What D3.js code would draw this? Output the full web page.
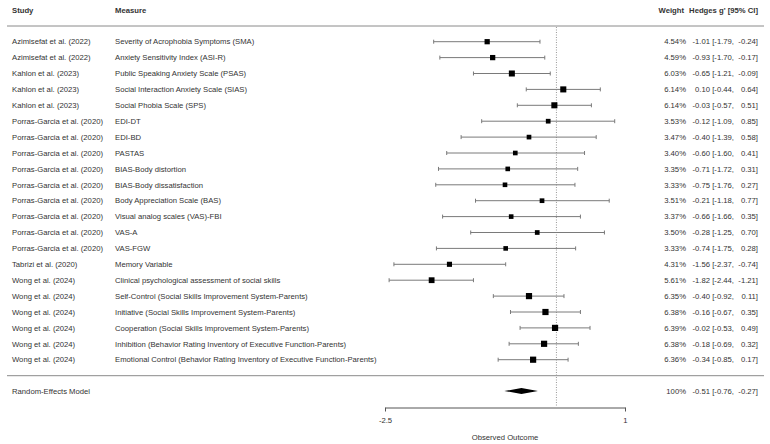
<!DOCTYPE html>
<html>
<head>
<meta charset="utf-8">
<script src="https://cdn.jsdelivr.net/npm/d3@7"></script>
<style>
  body { margin: 0; background: #fff; }
  svg text { font-family: "Liberation Sans", Arial, sans-serif; fill: #333; }
</style>
</head>
<body>
<div id="wrapper"></div>
<script>
// data
const studies = [
    'Azimisefat et al. (2022)', 'Azimisefat et al. (2022)',
    'Kahlon et al. (2023)', 'Kahlon et al. (2023)', 'Kahlon et al. (2023)',
    'Porras-Garcia et al. (2020)', 'Porras-Garcia et al. (2020)', 'Porras-Garcia et al. (2020)',
    'Porras-Garcia et al. (2020)', 'Porras-Garcia et al. (2020)', 'Porras-Garcia et al. (2020)',
    'Porras-Garcia et al. (2020)', 'Porras-Garcia et al. (2020)', 'Porras-Garcia et al. (2020)',
    'Tabrizi et al. (2020)',
    'Wong et al. (2024)', 'Wong et al. (2024)', 'Wong et al. (2024)',
    'Wong et al. (2024)', 'Wong et al. (2024)', 'Wong et al. (2024)'
];
const measures = [
    'Severity of Acrophobia Symptoms (SMA)',
    'Anxiety Sensitivity Index (ASI-R)',
    'Public Speaking Anxiety Scale (PSAS)',
    'Social Interaction Anxiety Scale (SIAS)',
    'Social Phobia Scale (SPS)',
    'EDI-DT',
    'EDI-BD',
    'PASTAS',
    'BIAS-Body distortion',
    'BIAS-Body dissatisfaction',
    'Body Appreciation Scale (BAS)',
    'Visual analog scales (VAS)-FBI',
    'VAS-A',
    'VAS-FGW',
    'Memory Variable',
    'Clinical psychological assessment of social skills',
    'Self-Control (Social Skills Improvement System-Parents)',
    'Initiative (Social Skills Improvement System-Parents)',
    'Cooperation (Social Skills Improvement System-Parents)',
    'Inhibition (Behavior Rating Inventory of Executive Function-Parents)',
    'Emotional Control (Behavior Rating Inventory of Executive Function-Parents)'
];
const weights = [4.54, 4.59, 6.03, 6.14, 6.14, 3.53, 3.47, 3.40, 3.35, 3.33, 3.51,
    3.37, 3.50, 3.33, 4.31, 5.61, 6.35, 6.38, 6.39, 6.38, 6.36];
const estimates = [-1.01, -0.93, -0.65, 0.10, -0.03, -0.12, -0.40, -0.60, -0.71, -0.75, -0.21,
    -0.66, -0.28, -0.74, -1.56, -1.82, -0.40, -0.16, -0.02, -0.18, -0.34];
const lowers = [-1.79, -1.70, -1.21, -0.44, -0.57, -1.09, -1.39, -1.60, -1.72, -1.76, -1.18,
    -1.66, -1.25, -1.75, -2.37, -2.44, -0.92, -0.67, -0.53, -0.69, -0.85];
const uppers = [-0.24, -0.17, -0.09, 0.64, 0.51, 0.85, 0.58, 0.41, 0.31, 0.27, 0.77,
    0.35, 0.70, 0.28, -0.74, -1.21, 0.11, 0.35, 0.49, 0.32, 0.17];
const summary = { label: 'Random-Effects Model', weight: 100, est: -0.51, lo: -0.76, hi: -0.27 };
const axisTicks = [-2.5, 1];

const data = studies.map((s, i) => ({
    i, study: s, measure: measures[i], weight: weights[i],
    est: estimates[i], lo: lowers[i], hi: uppers[i]
}));

//define dimensions
const width = 770;
const height = 444;
const fontSize = 7.7;

const svg = d3.select('#wrapper').append('svg')
    .attr('width', width)
    .attr('height', height);

const xScale = d3.scaleLinear()
    .domain([-2.5, 1])
    .range([385, 625]);

const yScale = d3.scalePoint()
    .domain(data.map(d => d.i))
    .range([41.7, 359.7]);

const sizeScale = d3.scaleLinear()
    .domain([d3.min(weights), d3.max(weights)])
    .range([4.6, 6.2]);

const fmt = v => v.toFixed(2);

// header
const header = svg.append('g').attr('font-size', fontSize).attr('font-weight', 'bold');
header.append('text').attr('x', 12).attr('y', 10).attr('dy', '0.35em').text('Study');
header.append('text').attr('x', 115).attr('y', 10).attr('dy', '0.35em').text('Measure');
header.append('text').attr('x', 684).attr('y', 10).attr('dy', '0.35em')
    .attr('text-anchor', 'end').text('Weight');
header.append('text').attr('x', 758).attr('y', 10).attr('dy', '0.35em')
    .attr('text-anchor', 'end').text('Hedges g\' [95% CI]');

// rules
[26, 375.7].forEach(y => {
    svg.append('line')
        .attr('x1', 7).attr('x2', 764)
        .attr('y1', y).attr('y2', y)
        .attr('stroke', '#8a8a8a')
        .attr('stroke-width', 1);
});

// reference line at 0
svg.append('line')
    .attr('x1', xScale(0)).attr('x2', xScale(0))
    .attr('y1', 27).attr('y2', 407)
    .attr('stroke', '#999')
    .attr('stroke-width', 1)
    .attr('stroke-dasharray', '1,1.5');

// rows
const rows = svg.append('g').selectAll('g').data(data).enter().append('g')
    .attr('transform', d => `translate(0, ${yScale(d.i)})`)
    .attr('font-size', fontSize);

rows.append('text').attr('x', 12).attr('dy', '0.35em').text(d => d.study);
rows.append('text').attr('x', 115).attr('dy', '0.35em').text(d => d.measure);
rows.append('text').attr('x', 686).attr('dy', '0.35em').attr('text-anchor', 'end')
    .text(d => fmt(d.weight) + '%');
rows.append('text').attr('x', 710).attr('dy', '0.35em').attr('text-anchor', 'end')
    .text(d => fmt(d.est));
rows.append('text').attr('x', 734).attr('dy', '0.35em').attr('text-anchor', 'end')
    .text(d => '[' + fmt(d.lo) + ',');
rows.append('text').attr('x', 758).attr('dy', '0.35em').attr('text-anchor', 'end')
    .text(d => fmt(d.hi) + ']');

// whiskers
rows.append('line')
    .attr('x1', d => xScale(d.lo)).attr('x2', d => xScale(d.hi))
    .attr('stroke', '#7a7a7a');
rows.append('line')
    .attr('x1', d => xScale(d.lo)).attr('x2', d => xScale(d.lo))
    .attr('y1', -2).attr('y2', 2)
    .attr('stroke', '#7a7a7a');
rows.append('line')
    .attr('x1', d => xScale(d.hi)).attr('x2', d => xScale(d.hi))
    .attr('y1', -2).attr('y2', 2)
    .attr('stroke', '#7a7a7a');
rows.append('rect')
    .attr('x', d => xScale(d.est) - sizeScale(d.weight) / 2)
    .attr('y', d => -sizeScale(d.weight) / 2)
    .attr('width', d => sizeScale(d.weight))
    .attr('height', d => sizeScale(d.weight))
    .attr('fill', '#000');

// summary
const sumY = 391;
const sumG = svg.append('g')
    .attr('transform', `translate(0, ${sumY})`)
    .attr('font-size', fontSize);
sumG.append('text').attr('x', 12).attr('dy', '0.35em').text(summary.label);
sumG.append('text').attr('x', 686).attr('dy', '0.35em').attr('text-anchor', 'end')
    .text(summary.weight + '%');
sumG.append('text').attr('x', 710).attr('dy', '0.35em').attr('text-anchor', 'end')
    .text(fmt(summary.est));
sumG.append('text').attr('x', 734).attr('dy', '0.35em').attr('text-anchor', 'end')
    .text('[' + fmt(summary.lo) + ',');
sumG.append('text').attr('x', 758).attr('dy', '0.35em').attr('text-anchor', 'end')
    .text(fmt(summary.hi) + ']');
sumG.append('polygon')
    .attr('points', [
        [xScale(summary.lo), 0],
        [xScale(summary.est), -2.9],
        [xScale(summary.hi), 0],
        [xScale(summary.est), 2.9]
    ].map(p => p.join(',')).join(' '))
    .attr('fill', '#000');

// axis
const xAxisGenerator = d3.axisBottom(xScale)
    .tickValues(axisTicks)
    .tickSizeInner(4)
    .tickSizeOuter(0)
    .tickPadding(6)
    .tickFormat(d => String(d));

const xAxis = svg.append('g')
    .attr('transform', 'translate(0, 407.5)')
    .call(xAxisGenerator);
xAxis.select('.domain').attr('stroke', '#555');
xAxis.selectAll('.tick line').attr('stroke', '#555');
xAxis.selectAll('.tick text')
    .attr('font-size', fontSize)
    .style('fill', '#333');

svg.append('text')
    .attr('x', xScale(-0.75))
    .attr('y', 437)
    .attr('dy', '0.35em')
    .attr('text-anchor', 'middle')
    .attr('font-size', fontSize)
    .style('fill', '#333')
    .text('Observed Outcome');
</script>
</body>
</html>
